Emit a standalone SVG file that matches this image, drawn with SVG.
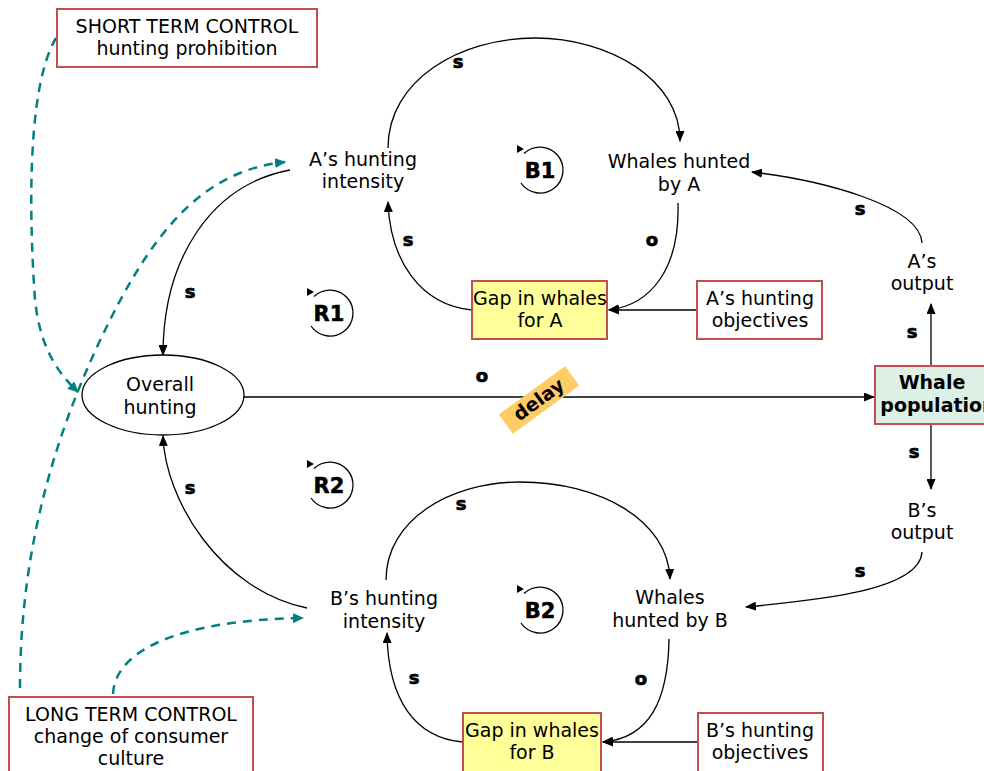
<svg xmlns="http://www.w3.org/2000/svg" width="984" height="771" viewBox="0 0 984 771">
<style>
.t{font-family:"DejaVu Sans",Verdana,sans-serif;font-size:19px;fill:#000;text-anchor:middle}
.tb{font-family:"DejaVu Sans",Verdana,sans-serif;font-size:19px;font-weight:bold;fill:#000;text-anchor:middle}
.lab{font-family:"DejaVu Sans",sans-serif;font-size:18px;font-weight:bold;fill:#000;stroke:#000;stroke-width:0.7;text-anchor:middle}
.loopt{font-family:"DejaVu Sans",sans-serif;font-size:21px;font-weight:bold;fill:#000;stroke:#000;stroke-width:0.5;text-anchor:middle}
.box{fill:#fff;stroke:#C0504D;stroke-width:2}
.gap{fill:#FFFF99;stroke:#C0504D;stroke-width:2}
.c{fill:none;stroke:#000;stroke-width:1.3;marker-end:url(#ah)}
.d{fill:none;stroke:#008080;stroke-width:2.5;stroke-dasharray:9 7;marker-end:url(#ahd)}
</style>
<defs>
<marker id="ah" markerWidth="11" markerHeight="9" refX="10" refY="4.5" orient="auto" markerUnits="userSpaceOnUse"><path d="M0,0 L11,4.5 L0,9 z" fill="#000"/></marker>
<marker id="ahd" markerWidth="11" markerHeight="10" refX="10" refY="5" orient="auto" markerUnits="userSpaceOnUse"><path d="M0,0 L11,5 L0,10 z" fill="#008080"/></marker>
<g id="loop"><path d="M -16,-16.5 A 23 23 0 1 1 -19,13" fill="none" stroke="#000" stroke-width="1.3"/><path d="M -23,-25 L -16,-21 L -23,-17 z" fill="#000"/></g>
</defs>

<g id="connectors">
<path class="c" d="M 388,148 C 388,80 460,38 535,38 C 610,38 680,80 680,141"/>
<path class="c" d="M 678,203 C 680,270 650,305 609,310"/>
<path class="c" d="M 472,310 C 420,305 390,260 388,202"/>
<path class="c" d="M 697,310 L 609,310"/>
<path class="c" d="M 922,243 C 920,205 820,180 752,172"/>
<path class="c" d="M 922,552 C 920,590 820,600 746,607"/>
<path class="c" d="M 931,366 L 931,304"/>
<path class="c" d="M 931,424 L 931,489"/>
<path class="c" d="M 290,170 C 210,185 163,260 163,355"/>
<path class="c" d="M 307,608 C 220,590 165,500 163,436"/>
<path class="c" d="M 244,397 L 874,397"/>
<path class="c" d="M 386,580 C 386,520 450,482 520,482 C 600,482 668,520 670,579"/>
<path class="c" d="M 669,639 C 668,700 650,738 603,742"/>
<path class="c" d="M 463,742 C 415,738 388,700 387,633"/>
<path class="c" d="M 698,742 L 603,742"/>
<path class="d" d="M 56,38 C 25,90 30,230 35,300 C 40,345 55,370 78,392"/>
<path class="d" d="M 20,688 C 20,540 60,420 110,320 C 160,220 210,170 285,162"/>
<path class="d" d="M 113,694 C 115,650 180,620 303,618"/>
<text class="lab" x="458" y="68">s</text>
<text class="lab" x="652" y="246">o</text>
<text class="lab" x="408" y="246">s</text>
<text class="lab" x="860" y="215">s</text>
<text class="lab" x="912" y="338">s</text>
<text class="lab" x="914" y="458">s</text>
<text class="lab" x="860" y="577">s</text>
<text class="lab" x="190" y="298">s</text>
<text class="lab" x="190" y="494">s</text>
<text class="lab" x="482" y="382">o</text>
<text class="lab" x="461" y="510">s</text>
<text class="lab" x="641" y="685">o</text>
<text class="lab" x="414" y="684">s</text>
<g transform="translate(539,400) rotate(-36)"><rect x="-41" y="-12" width="82" height="24" fill="#FFCC66"/><text class="tb" x="0" y="6">delay</text></g>
</g>

<g id="short-term"><rect class="box" x="57" y="9" width="260" height="58"/><text class="t" x="187" y="33">SHORT TERM CONTROL</text><text class="t" x="187" y="55">hunting prohibition</text></g>
<g id="long-term"><rect class="box" x="9" y="697" width="244" height="80"/><text class="t" x="131" y="721">LONG TERM CONTROL</text><text class="t" x="131" y="743">change of consumer</text><text class="t" x="131" y="765">culture</text></g>
<g id="a-intensity"><text class="t" x="363" y="166">A’s hunting</text><text class="t" x="363" y="188">intensity</text></g>
<g id="whales-a"><text class="t" x="679" y="168">Whales hunted</text><text class="t" x="679" y="191">by A</text></g>
<g id="gap-a"><rect class="gap" x="472" y="281" width="135" height="58"/><text class="t" x="540" y="305">Gap in whales</text><text class="t" x="540" y="327">for A</text></g>
<g id="obj-a"><rect class="box" x="697" y="281" width="125" height="58"/><text class="t" x="760" y="305">A’s hunting</text><text class="t" x="760" y="327">objectives</text></g>
<g id="a-output"><text class="t" x="922" y="268">A’s</text><text class="t" x="922" y="290">output</text></g>
<g id="whale-pop"><rect x="875" y="366" width="120" height="58" fill="#DDF0E6" stroke="#C0504D" stroke-width="2"/><text class="tb" x="932" y="389">Whale</text><text class="tb" x="938" y="412">population</text></g>
<g id="b-output"><text class="t" x="922" y="517">B’s</text><text class="t" x="922" y="539">output</text></g>
<g id="overall"><ellipse cx="163" cy="395" rx="81" ry="40" fill="#fff" stroke="#000" stroke-width="1.3"/><text class="t" x="160" y="391">Overall</text><text class="t" x="160" y="414">hunting</text></g>
<g id="b-intensity"><text class="t" x="384" y="605">B’s hunting</text><text class="t" x="384" y="628">intensity</text></g>
<g id="whales-b"><text class="t" x="670" y="604">Whales</text><text class="t" x="670" y="627">hunted by B</text></g>
<g id="gap-b"><rect class="gap" x="463" y="713" width="138" height="65"/><text class="t" x="532" y="737">Gap in whales</text><text class="t" x="532" y="759">for B</text></g>
<g id="obj-b"><rect class="box" x="698" y="713" width="125" height="65"/><text class="t" x="760" y="737">B’s hunting</text><text class="t" x="760" y="759">objectives</text></g>
<g id="loop-b1"><use href="#loop" x="540" y="170"/><text class="loopt" x="540" y="178">B1</text></g>
<g id="loop-r1"><use href="#loop" x="330" y="313"/><text class="loopt" x="329" y="321">R1</text></g>
<g id="loop-r2"><use href="#loop" x="330" y="485"/><text class="loopt" x="329" y="493">R2</text></g>
<g id="loop-b2"><use href="#loop" x="540" y="610"/><text class="loopt" x="540" y="618">B2</text></g>
</svg>
